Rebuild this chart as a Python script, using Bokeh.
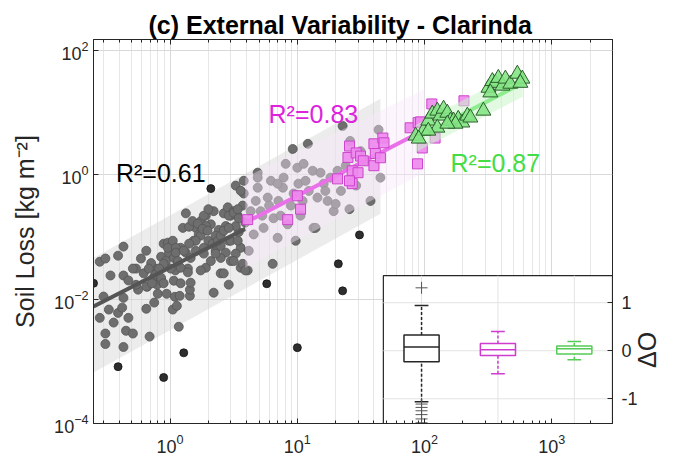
import numpy as np
from bokeh.plotting import figure
from bokeh.models import (Range1d, LinearScale, LinearAxis, LogAxis, FixedTicker,
                          Label, ColumnDataSource)
from bokeh.embed import file_html
from bokeh.resources import INLINE

FONT = "Liberation Sans"
TITLE = "(c) External Variability - Clarinda"
Y_LABEL = "Soil Loss [kg m\u207b\u00b2]"
INSET_LABEL = "\u0394O"

# ---------------- axis ticks ----------------
x_major_ticks = [1, 10, 100, 1000]
x_minor_ticks = [m * 10.0 ** e for e in range(-1, 4) for m in range(2, 10) if 0.25 <= m * 10.0 ** e <= 3000]
y_major_ticks = [1e-4, 1e-2, 1, 100]
inset_ticks = [-1, 0, 1]
inset_tick_labels = {-1: "-1", 0: "0", 1: "1"}

# ---------------- data: main scatter (gray circles) ----------------
gray_x = [0.30, 0.28, 0.33, 0.36, 0.39, 0.42, 0.31, 0.31, 0.43, 0.45, 0.51, 0.47, 0.43, 0.56, 0.65, 0.66,
          0.69, 0.75, 0.80, 0.79, 0.94, 1.05, 1.09, 1.13, 1.17, 1.19, 1.43, 1.43, 1.45, 2.2, 2.89, 1.07,
          0.28, 0.31, 0.39, 0.43, 0.43, 0.47, 0.62, 0.65, 0.75, 0.77, 0.85, 0.89, 0.96, 0.98, 1.05, 1.07,
          1.15, 1.21, 1.26, 1.33, 1.38, 1.45, 1.53, 1.59, 1.68, 1.74, 1.84, 1.91, 2.0, 2.09, 2.2, 2.28,
          2.41, 2.5, 2.64, 2.84, 2.89, 3.0, 3.16, 3.28, 3.4, 3.46, 3.59, 3.72, 3.79, 3.79, 3.59, 4.07,
          4.15, 4.54, 4.71, 4.88, 4.88, 5.15, 5.43, 5.85, 6.2, 6.4, 6.5, 7.0, 7.1, 7.7, 7.8, 8.1,
          8.4, 8.9, 9.35, 9.7, 10.0, 10.2, 11.0, 11.2, 12.1, 12.3, 13.2, 13.4, 14.4, 15.2, 16.1, 17.3,
          18.2, 20.7, 19.3, 9.2, 22.7, 43.5, 45, 20, 25.7, 13.9, 7.0, 1.33, 1.41, 1.74, 1.91, 2.28,
          2.5, 2.74, 3.0, 3.28, 1.91, 1.59, 1.1, 0.925, 0.71, 0.59, 0.54, 0.34, 0.85, 1.21, 1.74, 2.09,
          2.74, 3.9, 4.3, 5.3, 6.0, 7.4, 10.6, 11.6, 16.6, 22, 24, 29, 34, 37.6, 31.4, 26,
          3.59, 4.88,
          0.51, 0.68, 0.77, 0.54, 0.65, 0.72, 0.85, 0.89, 1.01, 0.96, 1.11, 1.11, 1.21, 1.38, 1.5, 1.65,
          1.84, 2.0, 1.8, 1.97, 2.16, 2.37, 2.5, 2.64, 2.89, 3.16, 3.4, 3.46, 2.89, 3.0, 3.4, 3.28,
          3.72, 3.9, 3.16, 2.5, 2.28, 1.84, 1.59, 1.41, 1.28, 1.15, 0.89, 0.82, 2.64]
gray_y = [0.011, 0.0050, 0.0068, 0.0042, 0.0060, 0.0073, 0.0028, 0.0019, 0.0017, 0.0031, 0.0028, 0.0050, 0.0105, 0.0142, 0.0070, 0.0158,
          0.0025, 0.0088, 0.0122, 0.0171, 0.0122, 0.0068, 0.0109, 0.0078, 0.0036, 0.0113, 0.0113, 0.0142, 0.0184, 0.0127, 0.0171, 0.0198,
          0.040, 0.045, 0.050, 0.070, 0.024, 0.020, 0.026, 0.060, 0.023, 0.031, 0.048, 0.078, 0.081, 0.056, 0.087, 0.046,
          0.037, 0.067, 0.14, 0.056, 0.031, 0.046, 0.087, 0.14, 0.11, 0.18, 0.067, 0.032, 0.087, 0.16, 0.26, 0.060,
          0.13, 0.026, 0.24, 0.30, 0.087, 0.041, 0.26, 0.67, 0.22, 0.12, 0.032, 0.32, 0.80, 0.50, 0.067, 0.029,
          0.060, 0.11, 0.38, 0.62, 1.08, 0.26, 0.14, 0.43, 0.80, 0.037, 0.20, 0.097, 0.38, 0.62, 0.90, 1.5,
          0.16, 0.32, 0.50, 0.087, 1.3, 0.72, 0.38, 1.5, 3.15, 0.55, 1.16, 0.14, 0.43, 1.08, 0.72, 0.38,
          0.90, 1.16, 0.26, 2.6, 6.1, 5.3, 0.90, 0.34, 0.28, 0.14, 0.72, 0.24, 0.146, 0.105, 0.15, 0.105,
          0.072, 0.15, 0.22, 0.15, 0.22, 0.06, 0.029, 0.041, 0.038, 0.045, 0.031, 0.024, 0.02, 0.018, 0.029, 0.041,
          0.056, 0.17, 0.26, 0.22, 0.32, 0.22, 0.22, 0.80, 0.55, 0.55, 1.4, 0.67, 1.7, 0.38, 2.4, 3.5,
          0.553, 0.9,
          0.031, 0.031, 0.025, 0.017, 0.016, 0.018, 0.022, 0.018, 0.031, 0.067, 0.067, 0.056, 0.032, 0.027, 0.18, 0.163,
          0.22, 0.28, 0.135, 0.126, 0.078, 0.087, 0.105, 0.126, 0.22, 0.245, 0.28, 0.2, 0.14, 0.087, 0.087, 0.054,
          0.037, 0.029, 0.041, 0.046, 0.054, 0.054, 0.087, 0.078, 0.06, 0.041, 0.037, 0.031, 0.026]

# points outside the prediction band (dark)
dark_x = [0.25, 0.39, 0.89, 1.28, 10, 5.75, 22.7, 2.09, 21, 30.8]
dark_y = [0.018, 0.00082, 0.00055, 0.00137, 0.00166, 0.0177, 0.0136, 0.60, 0.037, 0.108]

# magenta squares
mag_x = [4.07, 8.4, 10.6, 10, 25.7, 25, 29, 31.4, 33, 27, 30, 40, 41, 40, 47, 48, 45, 27, 25.7, 20.7,
         77, 89, 96, 88, 114, 121, 204, 93]
mag_y = [0.19, 0.19, 0.28, 0.46, 2.9, 1.9, 2.25, 2.0, 1.68, 1.16, 1.08, 3.15, 2.2, 1.4, 3.9, 3.27, 1.88, 0.72, 0.80, 0.86,
         5.7, 6.9, 2.7, 1.5, 13.8, 3.9, 15.5, 7.1]

# green triangles
grn_x = [85, 98, 107, 115, 126, 133, 141, 151, 160, 169, 184, 198, 217, 229, 175, 290,
         318, 341, 360, 380, 409, 432, 472, 536, 587, 566, 329, 126, 107, 90, 151]
grn_y = [4.24, 5.1, 7.4, 9.6, 10.7, 8.9, 11.5, 9.9, 7.4, 7.4, 7.9, 6.9, 8.9, 8.3, 6.6, 10.7,
         25, 32, 30, 36, 27, 35, 29, 42, 35, 30, 21, 5.7, 5.1, 3.8, 6.6]

# regression fits and prediction bands
gray_fit_x, gray_fit_y = [0.25, 3.9], [0.0076, 0.135]
mag_fit_x, mag_fit_y = [3.9, 88], [0.17, 4.6]
grn_fit_x, grn_fit_y = [85, 590], [3.8, 30]

gray_band_x, gray_band_lo, gray_band_hi = [0.25, 45], [0.00066, 0.236], [0.046, 16.7]
mag_band_x, mag_band_lo, mag_band_hi = [3.9, 100], [0.032, 1.1], [0.9, 24]
grn_band_x, grn_band_lo, grn_band_hi = [85, 590], [2.3, 18], [6.3, 50]

r2_labels = ["R\u00b2=0.61", "R\u00b2=0.83", "R\u00b2=0.87"]

# inset boxplot statistics (ΔO)
box_cats = [1, 2, 3]
box_q1 = [-0.23, -0.10, -0.07]
box_q3 = [0.33, 0.15, 0.10]
box_med = [0.08, 0.02, 0.04]
box_lo = [-1.06, -0.48, -0.19]
box_hi = [0.94, 0.40, 0.19]
box_colors = ["#262626", "#d03cd0", "#55cc55"]
outlier_cat = 1
outlier_y = [1.31, -1.11, -1.18, -1.25, -1.33, -1.42, -1.50]

# ---------------- figure ----------------
W, H = 677, 463
ML, MR, MT, MB = 93, 64, 39, 40
p = figure(width=W, height=H, x_axis_type="log", y_axis_type="log",
           x_range=Range1d(0.25, 3000), y_range=Range1d(1e-4, 150),
           min_border_left=ML, min_border_right=MR, min_border_top=MT, min_border_bottom=MB,
           output_backend="svg", toolbar_location=None, title=TITLE)
p.background_fill_color = "white"
p.border_fill_color = "white"
p.outline_line_color = "#262626"
p.outline_line_width = 1

p.title.text_font = FONT
p.title.text_font_size = "25px"
p.title.text_font_style = "bold"
p.title.text_color = "#000000"
p.title.align = "left"
p.title.offset = 55
p.title.standoff = 2

AX = "#262626"
xtick = FixedTicker(ticks=x_major_ticks, minor_ticks=x_minor_ticks)
ytick = FixedTicker(ticks=y_major_ticks, minor_ticks=[])
for ax in p.xaxis:
    ax.ticker = xtick
for ax in p.yaxis:
    ax.ticker = ytick
for ax in list(p.xaxis) + list(p.yaxis):
    ax.axis_line_color = AX
    ax.major_tick_line_color = AX
    ax.minor_tick_line_color = AX
    ax.major_tick_in = 5
    ax.major_tick_out = 0
    ax.minor_tick_in = 3
    ax.minor_tick_out = 0
    ax.major_label_text_font = FONT
    ax.major_label_text_font_size = "18px"
    ax.major_label_text_color = AX
p.xaxis.major_label_standoff = 10
p.yaxis.major_label_standoff = 5
p.yaxis.axis_label = Y_LABEL
p.yaxis.axis_label_text_font = FONT
p.yaxis.axis_label_text_font_size = "25px"
p.yaxis.axis_label_text_font_style = "normal"
p.yaxis.axis_label_text_color = AX
p.yaxis.axis_label_standoff = 12

top_ax = LogAxis(ticker=xtick, major_label_text_font_size="1px", major_label_text_alpha=0,
                 major_label_standoff=0,
                 axis_line_color=AX, major_tick_line_color=AX, minor_tick_line_color=AX,
                 major_tick_in=5, major_tick_out=0, minor_tick_in=3, minor_tick_out=0)
p.add_layout(top_ax, "above")

p.xgrid.ticker = xtick
p.ygrid.ticker = ytick
p.xgrid.grid_line_color = "#d9d9d9"
p.xgrid.minor_grid_line_color = "#e6e6e6"
p.ygrid.grid_line_color = "#d9d9d9"

# ---------------- main layers ----------------
p.varea(x=gray_band_x, y1=gray_band_lo, y2=gray_band_hi, fill_color="#d4d4d4", fill_alpha=0.45)
p.scatter(gray_x, gray_y, marker="circle", size=9, fill_color="#6e6e6e", line_color="#555555", line_width=0.8)
p.scatter(dark_x, dark_y, marker="circle", size=8, fill_color="#2e2e2e", line_color="#111111", line_width=0.8)
p.line(gray_fit_x, gray_fit_y, line_color="#555555", line_width=4)

p.varea(x=mag_band_x, y1=mag_band_lo, y2=mag_band_hi, fill_color="#fbe6fb", fill_alpha=0.42)
p.line(mag_fit_x, mag_fit_y, line_color="#ea70ea", line_width=4)
p.scatter(mag_x, mag_y, marker="square", size=10, fill_color="#ee88ee", line_color="#cc44cc",
          fill_alpha=0.9, line_width=1)

p.varea(x=grn_band_x, y1=grn_band_lo, y2=grn_band_hi, fill_color="#c9f5c9", fill_alpha=0.55)
p.line(grn_fit_x, grn_fit_y, line_color="#8fec8f", line_width=4)
p.scatter(grn_x, grn_y, marker="triangle", size=15, fill_color="#86e586", line_color="#2a5e2a",
          fill_alpha=0.9, line_width=1)

lab_style = dict(text_font=FONT, text_font_size="25px", text_baseline="alphabetic")
p.add_layout(Label(x=0.375, y=1.08, text=r2_labels[0], text_color="#000000", **lab_style))
p.add_layout(Label(x=5.94, y=9.6, text=r2_labels[1], text_color="#dd22dd", **lab_style))
p.add_layout(Label(x=160, y=1.56, text=r2_labels[2], text_color="#44dd44", **lab_style))

# ---------------- inset boxplot ----------------
INSET_XLIM = (0.5, 3.5)
INSET_YLIM = (-1.515, 1.5625)
p.extra_x_ranges = {"ix": Range1d(-3.295, 3.5)}
p.extra_y_ranges = {"iy": Range1d(-1.515, 6.48)}
p.extra_x_scales = {"ix": LinearScale()}
p.extra_y_scales = {"iy": LinearScale()}
IN = dict(x_range_name="ix", y_range_name="iy")

p.quad(left=INSET_XLIM[0], right=INSET_XLIM[1], bottom=INSET_YLIM[0], top=INSET_YLIM[1],
       fill_color="white", line_color=AX, line_width=1.2, **IN)
p.segment(x0=box_cats, y0=INSET_YLIM[0], x1=box_cats, y1=INSET_YLIM[1], line_color="#e3e3e3", line_width=1, **IN)
p.segment(x0=INSET_XLIM[0], y0=inset_ticks, x1=INSET_XLIM[1], y1=inset_ticks, line_color="#e3e3e3", line_width=1, **IN)

cats = np.array(box_cats, dtype=float)
BOX_W, CAP_W = 0.46, 0.18
bsrc = ColumnDataSource(dict(x=cats, q1=box_q1, q3=box_q3, med=box_med, lo=box_lo, hi=box_hi,
                             x0=cats - BOX_W / 2, x1=cats + BOX_W / 2,
                             c0=cats - CAP_W / 2, c1=cats + CAP_W / 2, color=box_colors))
p.segment(x0="x", y0="q3", x1="x", y1="hi", line_color="color", line_dash="3 2", line_width=1.5, source=bsrc, **IN)
p.segment(x0="x", y0="lo", x1="x", y1="q1", line_color="color", line_dash="3 2", line_width=1.5, source=bsrc, **IN)
p.segment(x0="c0", y0="hi", x1="c1", y1="hi", line_color="color", line_width=1.5, source=bsrc, **IN)
p.segment(x0="c0", y0="lo", x1="c1", y1="lo", line_color="color", line_width=1.5, source=bsrc, **IN)
p.vbar(x="x", width=BOX_W, bottom="q1", top="q3", fill_color="white", line_color="color", line_width=1.5,
       source=bsrc, **IN)
p.segment(x0="x0", y0="med", x1="x1", y1="med", line_color="color", line_width=1.5, source=bsrc, **IN)
p.scatter([outlier_cat] * len(outlier_y), outlier_y, marker="cross", size=12, line_color="#555555",
          line_width=1, **IN)

# ΔO label: axis label aligned at the start (bottom) of the right axis, padded up to the inset centre
PAD = "\u00a0" * 8
ax_r = LinearAxis(y_range_name="iy", bounds=INSET_YLIM, ticker=FixedTicker(ticks=inset_ticks),
                  axis_line_color=AX, major_tick_line_color=AX, major_tick_in=5, major_tick_out=0,
                  minor_tick_line_color=None, major_label_standoff=9,
                  major_label_overrides=inset_tick_labels,
                  major_label_text_font=FONT, major_label_text_font_size="18px",
                  major_label_text_color=AX,
                  axis_label=PAD + INSET_LABEL, axis_label_text_font=FONT, axis_label_text_font_size="25px",
                  axis_label_text_font_style="normal", axis_label_text_color=AX,
                  axis_label_standoff=6)
try:
    ax_r.axis_label_orientation = float(np.pi / 2)
except Exception:
    pass
try:
    ax_r.axis_label_align = "start"
except Exception:
    pass
p.add_layout(ax_r, "right")

open("out.html", "w").write(file_html(p, INLINE))
